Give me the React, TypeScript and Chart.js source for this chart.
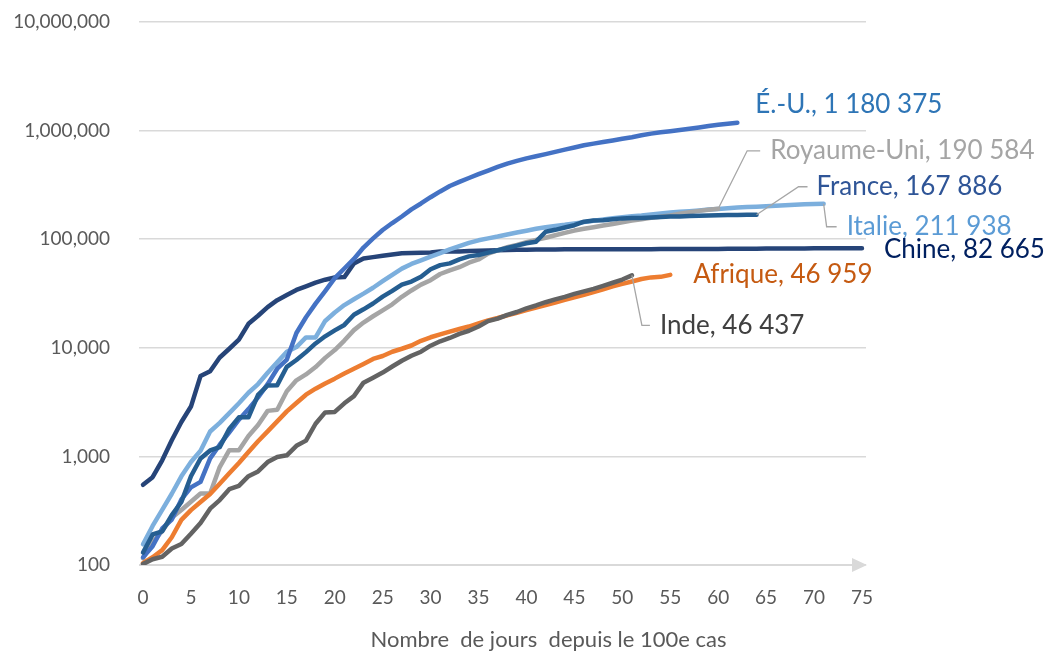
import React, { useEffect, useRef } from "react";
import { Chart, registerables } from "chart.js";

Chart.register(...registerables);

// Cumulative confirmed cases, by day since the 100th case
const usCases = [118, 149, 217, 262, 402, 518, 583, 959, 1281, 1663, 2179, 2727, 3499, 4632, 6421, 7786, 13680, 19101, 25493, 33276, 43847, 53740, 65778, 83836, 101657, 121465, 140909, 161831, 188172, 213242, 243622, 275367, 308650, 336802, 366317, 397121, 428654, 462780, 496535, 526396, 555313, 580619, 607670, 636350, 667592, 699706, 732197, 758809, 784326, 811865, 840351, 869170, 905358, 938154, 965785, 988197, 1012582, 1039909, 1069424, 1103461, 1132539, 1158040, 1180375];
const ukCases = [115, 163, 206, 273, 321, 382, 456, 456, 798, 1140, 1140, 1543, 1950, 2626, 2689, 3983, 5018, 5683, 6650, 8077, 9529, 11658, 14543, 17089, 19522, 22141, 25150, 29474, 33718, 38168, 41903, 47806, 51608, 55242, 60733, 65077, 73758, 78991, 84279, 88621, 93873, 98476, 103093, 108692, 114217, 120067, 124743, 129044, 133495, 138078, 143464, 148377, 152840, 157149, 161145, 165221, 171253, 177454, 182260, 186599, 190584];
const franceCases = [130, 191, 204, 288, 380, 656, 957, 1134, 1217, 1792, 2289, 2293, 3681, 4496, 4532, 6683, 7715, 9124, 10970, 12758, 14463, 16243, 20123, 22622, 25600, 29551, 33402, 38105, 40708, 45170, 52827, 57749, 59929, 65202, 69500, 71412, 75343, 79163, 83057, 87366, 91738, 94863, 117000, 122000, 128000, 134582, 145000, 148500, 149149, 153000, 155500, 157000, 157125, 158636, 159952, 161644, 162220, 163500, 164800, 165500, 166543, 167100, 167305, 167605, 167886];
const italyCases = [155, 229, 322, 453, 655, 888, 1128, 1694, 2036, 2502, 3089, 3858, 4636, 5883, 7375, 9172, 10149, 12462, 12462, 17660, 21157, 24747, 27980, 31506, 35713, 41035, 47021, 53578, 59138, 63927, 69176, 74386, 80589, 86498, 92472, 97689, 101739, 105792, 110574, 115242, 119827, 124632, 128948, 132547, 135586, 139422, 143626, 147577, 152271, 156363, 159516, 162488, 165155, 168941, 172434, 175925, 178972, 181228, 183957, 187327, 189973, 192994, 195351, 197675, 199414, 201505, 203591, 205463, 207428, 209328, 210717, 211938];
const chinaCases = [548, 643, 920, 1406, 2075, 2877, 5509, 6087, 8141, 9802, 11891, 16630, 19716, 23707, 27440, 30587, 34110, 36814, 39829, 42354, 44386, 44759, 59895, 66358, 68413, 70513, 72434, 74211, 74619, 75077, 75550, 77001, 77022, 77241, 77754, 78166, 78600, 78928, 79356, 79932, 80136, 80261, 80386, 80537, 80690, 80770, 80823, 80860, 80887, 80921, 80932, 80945, 80977, 81003, 81033, 81058, 81102, 81156, 81250, 81305, 81435, 81498, 81591, 81661, 81782, 81897, 81999, 82122, 82198, 82279, 82361, 82432, 82511, 82543, 82602, 82665];
const africaCases = [104, 118, 137, 180, 260, 320, 380, 450, 560, 700, 870, 1100, 1380, 1700, 2100, 2600, 3100, 3700, 4200, 4700, 5200, 5800, 6400, 7100, 7900, 8400, 9200, 9800, 10500, 11600, 12500, 13300, 14100, 14900, 15700, 16800, 17900, 18800, 19900, 21000, 22200, 23500, 24800, 26100, 27600, 29100, 30800, 32600, 34600, 36800, 38800, 40800, 43000, 44500, 45000, 46959];
const indiaCases = [102, 113, 119, 142, 156, 194, 244, 330, 396, 499, 536, 657, 727, 887, 987, 1024, 1251, 1397, 1998, 2543, 2567, 3082, 3588, 4778, 5311, 5916, 6725, 7598, 8446, 9205, 10453, 11487, 12322, 13430, 14352, 15722, 17615, 18539, 20080, 21370, 23077, 24530, 26283, 27890, 29451, 31324, 33062, 34863, 37257, 39699, 42505, 46437];

const yTickValues = [100, 1000, 10000, 100000, 1000000, 10000000];
const xTickValues = [0, 5, 10, 15, 20, 25, 30, 35, 40, 45, 50, 55, 60, 65, 70, 75];
const xAxisTitle = "Nombre  de jours  depuis le 100e cas";

const seriesLabels = {
  us: "É.-U., 1 180 375",
  uk: "Royaume-Uni, 190 584",
  france: "France, 167 886",
  italy: "Italie, 211 938",
  china: "Chine, 82 665",
  africa: "Afrique, 46 959",
  india: "Inde, 46 437",
};

type Series = {
  key: string;
  values: number[];
  line: string;
  text: string;
  // label placement relative to the last point
  tx: number;
  ty: number;
  leader?: [number, number][];
};

const series: Series[] = [
  { key: "india", values: indiaCases, line: "#636363", text: "#404040", tx: 28, ty: 50, leader: [[10, 50], [18, 50]] },
  { key: "africa", values: africaCases, line: "#ED7D31", text: "#C55A11", tx: 23, ty: 0 },
  { key: "france", values: franceCases, line: "#255E91", text: "#2F5597", tx: 60, ty: -28, leader: [[42, -28], [51, -28]] },
  { key: "us", values: usCases, line: "#4472C4", text: "#2E75B6", tx: 18, ty: -18 },
  { key: "uk", values: ukCases, line: "#A5A5A5", text: "#A5A5A5", tx: 52, ty: -58, leader: [[29, -58], [42, -58]] },
  { key: "italy", values: italyCases, line: "#7CAFDD", text: "#5B9BD5", tx: 23, ty: 23, leader: [[3, 23], [13, 23]] },
  { key: "china", values: chinaCases, line: "#264478", text: "#002060", tx: 22, ty: 1 },
];

const FONT = "Lato, 'Open Sans', sans-serif";

const overlayPlugin = {
  id: "overlay",
  beforeDatasetsDraw(chart: any) {
    const { ctx, chartArea, scales } = chart;
    const y0 = scales.y.getPixelForValue(yTickValues[0]);
    ctx.save();
    ctx.strokeStyle = "#D9D9D9";
    ctx.fillStyle = "#D9D9D9";
    ctx.lineWidth = 2;
    ctx.beginPath();
    ctx.moveTo(chartArea.left, y0);
    ctx.lineTo(chartArea.right - 13, y0);
    ctx.stroke();
    ctx.beginPath();
    ctx.moveTo(chartArea.right - 14, y0 - 7);
    ctx.lineTo(chartArea.right + 1, y0);
    ctx.lineTo(chartArea.right - 14, y0 + 7);
    ctx.closePath();
    ctx.fill();
    ctx.restore();
  },
  afterDatasetsDraw(chart: any) {
    const { ctx, scales } = chart;
    ctx.save();
    series.forEach((s) => {
      const last = s.values.length - 1;
      const px = scales.x.getPixelForValue(last);
      const py = scales.y.getPixelForValue(s.values[last]);
      if (s.leader) {
        ctx.strokeStyle = "#A6A6A6";
        ctx.lineWidth = 1.3;
        ctx.beginPath();
        ctx.moveTo(px, py);
        s.leader.forEach(([dx, dy]) => ctx.lineTo(px + dx, py + dy));
        ctx.stroke();
      }
      ctx.font = `26px ${FONT}`;
      ctx.fillStyle = s.text;
      ctx.textAlign = "left";
      ctx.textBaseline = "middle";
      ctx.fillText((seriesLabels as any)[s.key], px + s.tx, py + s.ty);
    });
    ctx.font = `22px ${FONT}`;
    ctx.fillStyle = "#595959";
    ctx.textAlign = "center";
    ctx.textBaseline = "middle";
    const cx = (chart.chartArea.left + chart.chartArea.right) / 2 + 46;
    ctx.fillText(xAxisTitle, cx, chart.height - 15);
    ctx.restore();
  },
};

export default function App() {
  const canvasRef = useRef<HTMLCanvasElement | null>(null);

  useEffect(() => {
    if (!canvasRef.current) return;
    Chart.defaults.font.family = FONT;
    const chart = new Chart(canvasRef.current, {
      type: "line",
      data: {
        datasets: series.map((s) => ({
          label: s.key,
          data: s.values.map((v, i) => ({ x: i, y: v })),
          borderColor: s.line,
          backgroundColor: s.line,
          borderWidth: 4.5,
          pointRadius: 0,
          tension: 0,
          borderCapStyle: "round" as const,
          borderJoinStyle: "round" as const,
          fill: false,
        })),
      },
      options: {
        animation: false,
        responsive: false,
        devicePixelRatio: 1,
        layout: { padding: { top: 22, right: 184, left: 0, bottom: 0 } },
        plugins: {
          legend: { display: false },
          tooltip: { enabled: false },
          title: { display: false },
        },
        scales: {
          x: {
            type: "linear",
            min: -0.42,
            max: 75.42,
            afterBuildTicks: (scale: any) => {
              scale.ticks = xTickValues.map((v) => ({ value: v }));
            },
            afterFit: (scale: any) => {
              scale.height = 90;
            },
            grid: { display: false, drawTicks: false },
            border: { display: false },
            ticks: {
              color: "#595959",
              font: { size: 19, family: FONT },
              padding: 21,
              maxRotation: 0,
              autoSkip: false,
            },
          },
          y: {
            type: "logarithmic",
            min: 100,
            max: 10000000,
            afterBuildTicks: (scale: any) => {
              scale.ticks = yTickValues.map((v) => ({ value: v }));
            },
            afterFit: (scale: any) => {
              scale.width = 139;
            },
            grid: {
              color: "#D9D9D9",
              lineWidth: 1.5,
              drawTicks: true,
              tickLength: 29,
              tickColor: "rgba(0,0,0,0)",
            },
            border: { display: false },
            ticks: {
              color: "#595959",
              font: { size: 19, family: FONT },
              padding: 0,
              callback: (v: any) => Number(v).toLocaleString("en-US"),
            },
          },
        },
      },
      plugins: [overlayPlugin],
    });
    return () => chart.destroy();
  }, []);

  return (
    <div style={{ position: "fixed", left: 0, top: 0, width: 1050, height: 655, background: "#fff" }}>
      <canvas ref={canvasRef} width={1050} height={655} style={{ width: 1050, height: 655 }} />
    </div>
  );
}
